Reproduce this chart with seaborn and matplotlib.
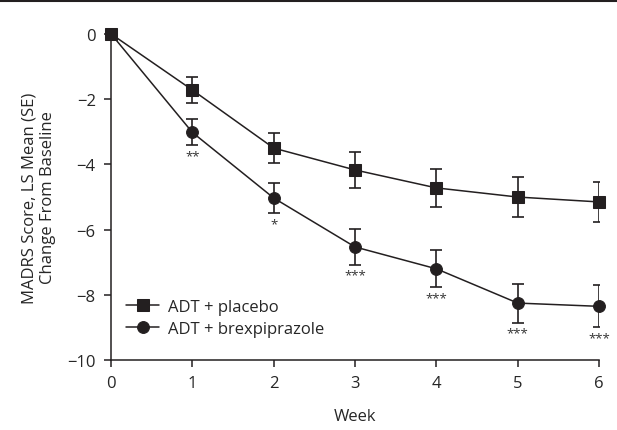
import matplotlib.pyplot as plt
import matplotlib.lines as mlines
import seaborn as sns
import pandas as pd

weeks = [0, 1, 2, 3, 4, 5, 6]
placebo_mean = [0, -1.72, -3.5, -4.17, -4.72, -5.0, -5.15]
placebo_se = [0, 0.4, 0.47, 0.55, 0.58, 0.6, 0.62]
brex_mean = [0, -3.02, -5.03, -6.53, -7.2, -8.25, -8.35]
brex_se = [0, 0.4, 0.47, 0.54, 0.57, 0.6, 0.64]
stars = ['', '**', '*', '***', '***', '***', '***']

sns.set_style('ticks')
plt.rcParams['font.family'] = ['Open Sans', 'DejaVu Sans']

df = pd.DataFrame({
    'Week': weeks * 2,
    'mean': placebo_mean + brex_mean,
    'se': placebo_se + brex_se,
    'group': ['ADT + placebo'] * 7 + ['ADT + brexpiprazole'] * 7,
})

fig = plt.figure(figsize=(6.17, 4.31), dpi=100)
ax = fig.add_axes([0.18, 0.162, 0.791, 0.757])

for name, marker, ms in [('ADT + placebo', 's', 8), ('ADT + brexpiprazole', 'o', 8.5)]:
    sub = df[df['group'] == name]
    ax.errorbar(sub['Week'][1:], sub['mean'][1:], yerr=sub['se'][1:], fmt='none',
                ecolor='#231f20', elinewidth=1.2, capsize=4.5, capthick=1.2, zorder=2)
    sns.lineplot(data=sub, x='Week', y='mean', marker=marker, markersize=ms,
                 color='#231f20', linewidth=1.1, markeredgecolor='#231f20',
                 label=name, ax=ax, zorder=3, clip_on=False)

for w, m, s, st in zip(weeks, brex_mean, brex_se, stars):
    if st:
        ax.text(w, m - s - 0.12, st, ha='center', va='top', fontsize=9.5, color='#333333')

ax.set_xlim(0, 6)
ax.set_ylim(-10, 0)
ax.set_xticks(range(0, 7))
ax.set_yticks(range(-10, 1, 2))
ax.set_yticklabels(['\u221210', '\u22128', '\u22126', '\u22124', '\u22122', '0'])
ax.tick_params(labelsize=12, length=5, width=1.1, color='#231f20', pad=6)
for sp in ['left', 'bottom']:
    ax.spines[sp].set_linewidth(1.1)
    ax.spines[sp].set_color('#231f20')
sns.despine(ax=ax)

ax.set_xlabel('Week', fontsize=12, labelpad=12)
ax.set_ylabel('MADRS Score, LS Mean (SE)\nChange From Baseline', fontsize=12, labelpad=8)

ax.legend(loc='lower left', bbox_to_anchor=(0.0, 0.025), frameon=False, fontsize=12,
          handlelength=2.0, handletextpad=0.5, labelspacing=0.35)

fig.add_artist(mlines.Line2D([0, 1], [0.995, 0.995], color='#231f20', linewidth=1.5))

plt.savefig('out.png', dpi=100)
